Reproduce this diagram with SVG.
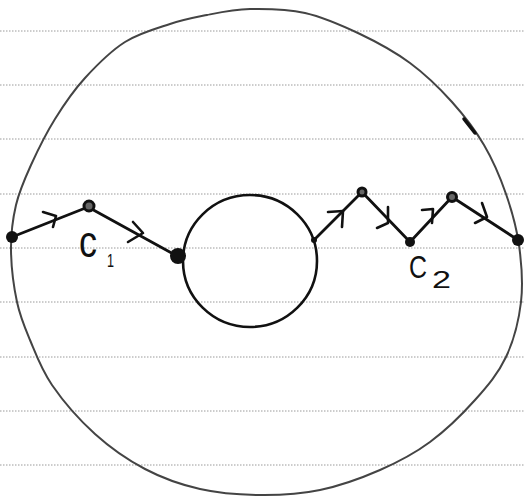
<svg xmlns="http://www.w3.org/2000/svg" width="524" height="502" viewBox="0 0 524 502">
<style>
.rule{stroke:#9a9a9a;stroke-width:1;stroke-dasharray:1.5 1.5;fill:none}
.outer{fill:none;stroke:#444;stroke-width:2}
.inner{fill:none;stroke:#111;stroke-width:2.6}
.seg{stroke:#111;stroke-width:2.8;stroke-linecap:round;fill:none}
.arr{stroke:#111;stroke-width:2.6;stroke-linecap:round;stroke-linejoin:round;fill:none}
.dot{fill:#111}
.ring{fill:#666;stroke:#111;stroke-width:3}
.lbl{font-family:"Liberation Sans",Arial,sans-serif;fill:#111}
</style>
<rect width="524" height="502" fill="#fff"/>
<g id="paper">
<line class="rule" x1="0" y1="31" x2="524" y2="31"/>
<line class="rule" x1="0" y1="85" x2="524" y2="85"/>
<line class="rule" x1="0" y1="139" x2="524" y2="139"/>
<line class="rule" x1="0" y1="194" x2="524" y2="194"/>
<line class="rule" x1="0" y1="248" x2="524" y2="248"/>
<line class="rule" x1="0" y1="302" x2="524" y2="302"/>
<line class="rule" x1="0" y1="357" x2="524" y2="357"/>
<line class="rule" x1="0" y1="411" x2="524" y2="411"/>
<line class="rule" x1="0" y1="465" x2="524" y2="465"/>
</g>
<g id="outer-circle">
<path class="outer" d="M250,9 C266.3,8.7 286.7,8.8 305,13 S342.5,25.7 360,34 S394.7,51.7 410,63 S439.7,88.3 452,102 S475,129.7 484,145 S500.2,177.3 506,194 S516.5,227 519,245 S523.2,283.3 521,302 S513.7,340.7 506,357 S487.7,385.8 475,400 S445.8,430.3 430,442 S398.3,462 380,470 S340,485.8 320,490 S280,495.2 260,495 S219.2,493.3 200,489 S162.5,478.2 145,469 S110.5,448 95,434 S62.8,400.7 52,385 S35.8,353.8 30,340 S20.2,317 17,302 S11.2,266.2 11,250 S12.7,219.2 16,205 S24.5,179.3 31,165 S46,133.5 55,119 S73.3,90.8 85,78 S110.8,51 125,42 S156.3,28.5 170,24 S193.7,17.7 207,15 S233.7,9.3 250,9 Z"/>
<path d="M464,119 L475,133" stroke="#111" stroke-width="3.5" stroke-linecap="round" fill="none"/>
</g>
<g id="inner-circle">
<ellipse class="inner" cx="250" cy="261" rx="67" ry="66"/>
</g>
<g id="connectors">
<line class="seg" x1="12" y1="237" x2="88" y2="207"/>
<line class="seg" x1="88" y1="207" x2="177" y2="256"/>
<polyline class="arr" points="43,212 56,216 53,227"/>
<polyline class="arr" points="133,222 143,233 128,242"/>
<line class="seg" x1="314" y1="240" x2="362" y2="192"/>
<line class="seg" x1="362" y1="192" x2="410" y2="242"/>
<line class="seg" x1="410" y1="242" x2="452" y2="197"/>
<line class="seg" x1="452" y1="197" x2="518" y2="240"/>
<polyline class="arr" points="328,212 343,211 342,227"/>
<polyline class="arr" points="388,207 388,223 377,228"/>
<polyline class="arr" points="422,210 433,209 432,223"/>
<polyline class="arr" points="482,203 487,217 475,223"/>
</g>
<g id="node-c1-start"><circle class="dot" cx="12" cy="237" r="6"/></g>
<g id="node-c1-mid"><circle class="ring" cx="89" cy="206" r="5"/></g>
<g id="node-c1-end"><circle class="dot" cx="178" cy="256" r="8"/></g>
<g id="node-c2-start"><circle class="dot" cx="314" cy="240" r="3"/></g>
<g id="node-c2-a"><circle class="ring" cx="362" cy="192" r="4"/></g>
<g id="node-c2-b"><circle class="dot" cx="410" cy="242" r="5"/></g>
<g id="node-c2-c"><circle class="ring" cx="452" cy="197" r="4.5"/></g>
<g id="node-c2-end"><circle class="dot" cx="518" cy="240" r="6"/></g>
<g id="label-c1">
<text class="lbl" x="79" y="257" font-size="44" textLength="18" lengthAdjust="spacingAndGlyphs">c</text>
<text class="lbl" x="107" y="267" font-size="18" textLength="7" lengthAdjust="spacingAndGlyphs">1</text>
</g>
<g id="label-c2">
<text class="lbl" x="409" y="278" font-size="32" textLength="18" lengthAdjust="spacingAndGlyphs">C</text>
<text class="lbl" x="432" y="288" font-size="24" textLength="19" lengthAdjust="spacingAndGlyphs">2</text>
</g>
</svg>
